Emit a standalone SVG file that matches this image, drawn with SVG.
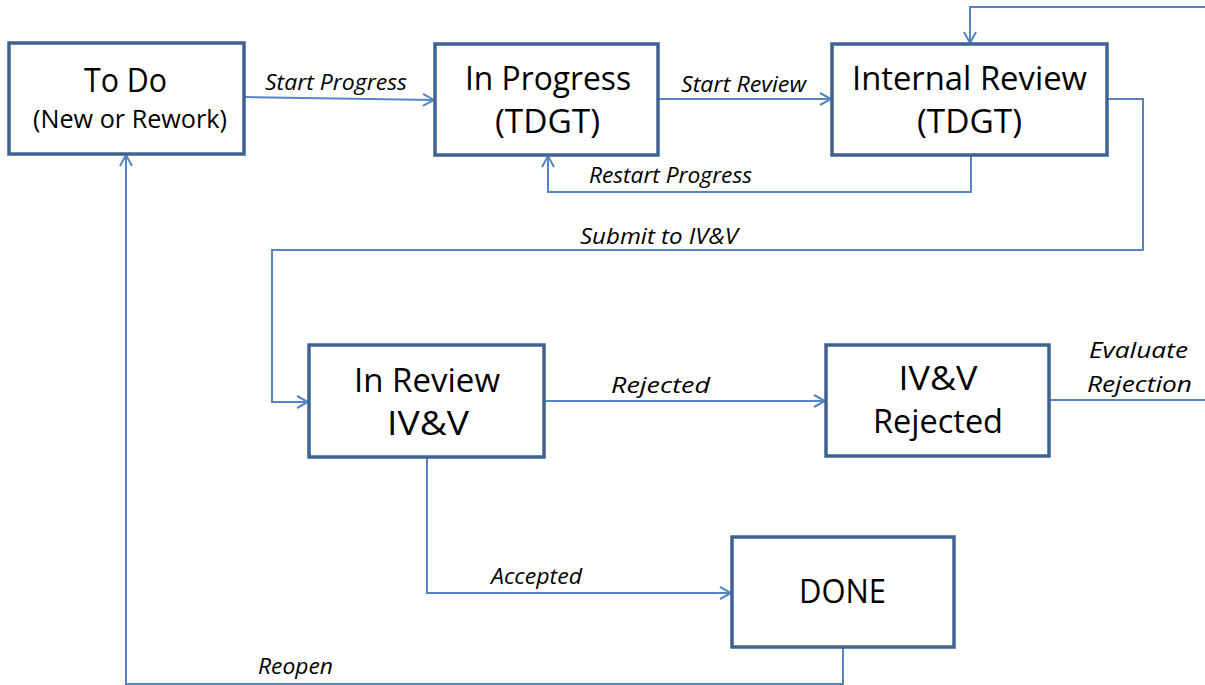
<svg xmlns="http://www.w3.org/2000/svg" width="1205" height="685" viewBox="0 0 1205 685">
<style>
.box{fill:#fff;stroke:#3F6391;stroke-width:3.5;}
.t{font-family:"Open Sans","Liberation Sans",sans-serif;font-size:32px;fill:#000;text-anchor:middle;}
.s{font-size:25px;}
.c{fill:none;stroke:#5585C5;stroke-width:2;}
.l{font-family:"Open Sans","Liberation Sans",sans-serif;font-style:italic;font-size:21px;fill:#000;}
</style>
<defs>
<marker id="a" markerWidth="14" markerHeight="14" refX="12" refY="7" orient="auto" markerUnits="userSpaceOnUse">
<path d="M1,1 L12,7 L1,13" fill="none" stroke="#5585C5" stroke-width="2"/>
</marker>
</defs>
<g id="connectors">
<path class="c" d="M244,97 L434,100" marker-end="url(#a)"/>
<path class="c" d="M658,99 L831,99" marker-end="url(#a)"/>
<path class="c" d="M971,155 L971,192 L548,192 L548,156" marker-end="url(#a)"/>
<path class="c" d="M1107,99 L1143,99 L1143,250 L272,250 L272,402 L308,402" marker-end="url(#a)"/>
<path class="c" d="M1205,7 L970,7 L970,43" marker-end="url(#a)"/>
<path class="c" d="M1049,400 L1205,400"/>
<path class="c" d="M544,401 L825,401" marker-end="url(#a)"/>
<path class="c" d="M427,457 L427,593 L731,593" marker-end="url(#a)"/>
<path class="c" d="M843,648 L843,684 L126,684 L126,155" marker-end="url(#a)"/>
<text class="l" x="265" y="90" textLength="142" lengthAdjust="spacingAndGlyphs">Start Progress</text>
<text class="l" x="681" y="92" textLength="125" lengthAdjust="spacingAndGlyphs">Start Review</text>
<text class="l" x="589" y="183" textLength="163" lengthAdjust="spacingAndGlyphs">Restart Progress</text>
<text class="l" x="580" y="244" textLength="158" lengthAdjust="spacingAndGlyphs">Submit to IV&amp;V</text>
<text class="l" x="1089" y="358" textLength="99" lengthAdjust="spacingAndGlyphs">Evaluate</text>
<text class="l" x="1087" y="392" textLength="105" lengthAdjust="spacingAndGlyphs">Rejection</text>
<text class="l" x="611" y="393" textLength="99" lengthAdjust="spacingAndGlyphs">Rejected</text>
<text class="l" x="491" y="584" textLength="91" lengthAdjust="spacingAndGlyphs">Accepted</text>
<text class="l" x="258" y="674" textLength="75" lengthAdjust="spacingAndGlyphs">Reopen</text>
</g>
<g id="todo">
<rect class="box" x="9" y="43" width="235" height="111"/>
<text class="t" x="125.5" y="92" textLength="83" lengthAdjust="spacingAndGlyphs">To Do</text>
<text class="t s" x="130" y="128" textLength="194" lengthAdjust="spacingAndGlyphs">(New or Rework)</text>
</g>
<g id="inprogress">
<rect class="box" x="435" y="44" width="223" height="111"/>
<text class="t" x="548" y="90" textLength="166" lengthAdjust="spacingAndGlyphs">In Progress</text>
<text class="t" x="547.5" y="133" textLength="105" lengthAdjust="spacingAndGlyphs">(TDGT)</text>
</g>
<g id="internalreview">
<rect class="box" x="832" y="44" width="275" height="111"/>
<text class="t" x="969.5" y="90" textLength="235" lengthAdjust="spacingAndGlyphs">Internal Review</text>
<text class="t" x="969.5" y="133" textLength="105" lengthAdjust="spacingAndGlyphs">(TDGT)</text>
</g>
<g id="inreview">
<rect class="box" x="309" y="345" width="235" height="112"/>
<text class="t" x="427" y="392" textLength="146" lengthAdjust="spacingAndGlyphs">In Review</text>
<text class="t" x="428" y="435" textLength="82" lengthAdjust="spacingAndGlyphs">IV&amp;V</text>
</g>
<g id="rejected">
<rect class="box" x="826" y="345" width="223" height="111"/>
<text class="t" x="938" y="390" textLength="79" lengthAdjust="spacingAndGlyphs">IV&amp;V</text>
<text class="t" x="938" y="433" textLength="130" lengthAdjust="spacingAndGlyphs">Rejected</text>
</g>
<g id="done">
<rect class="box" x="732" y="537" width="222" height="110"/>
<text class="t" x="842.5" y="603" textLength="87" lengthAdjust="spacingAndGlyphs">DONE</text>
</g>
</svg>
